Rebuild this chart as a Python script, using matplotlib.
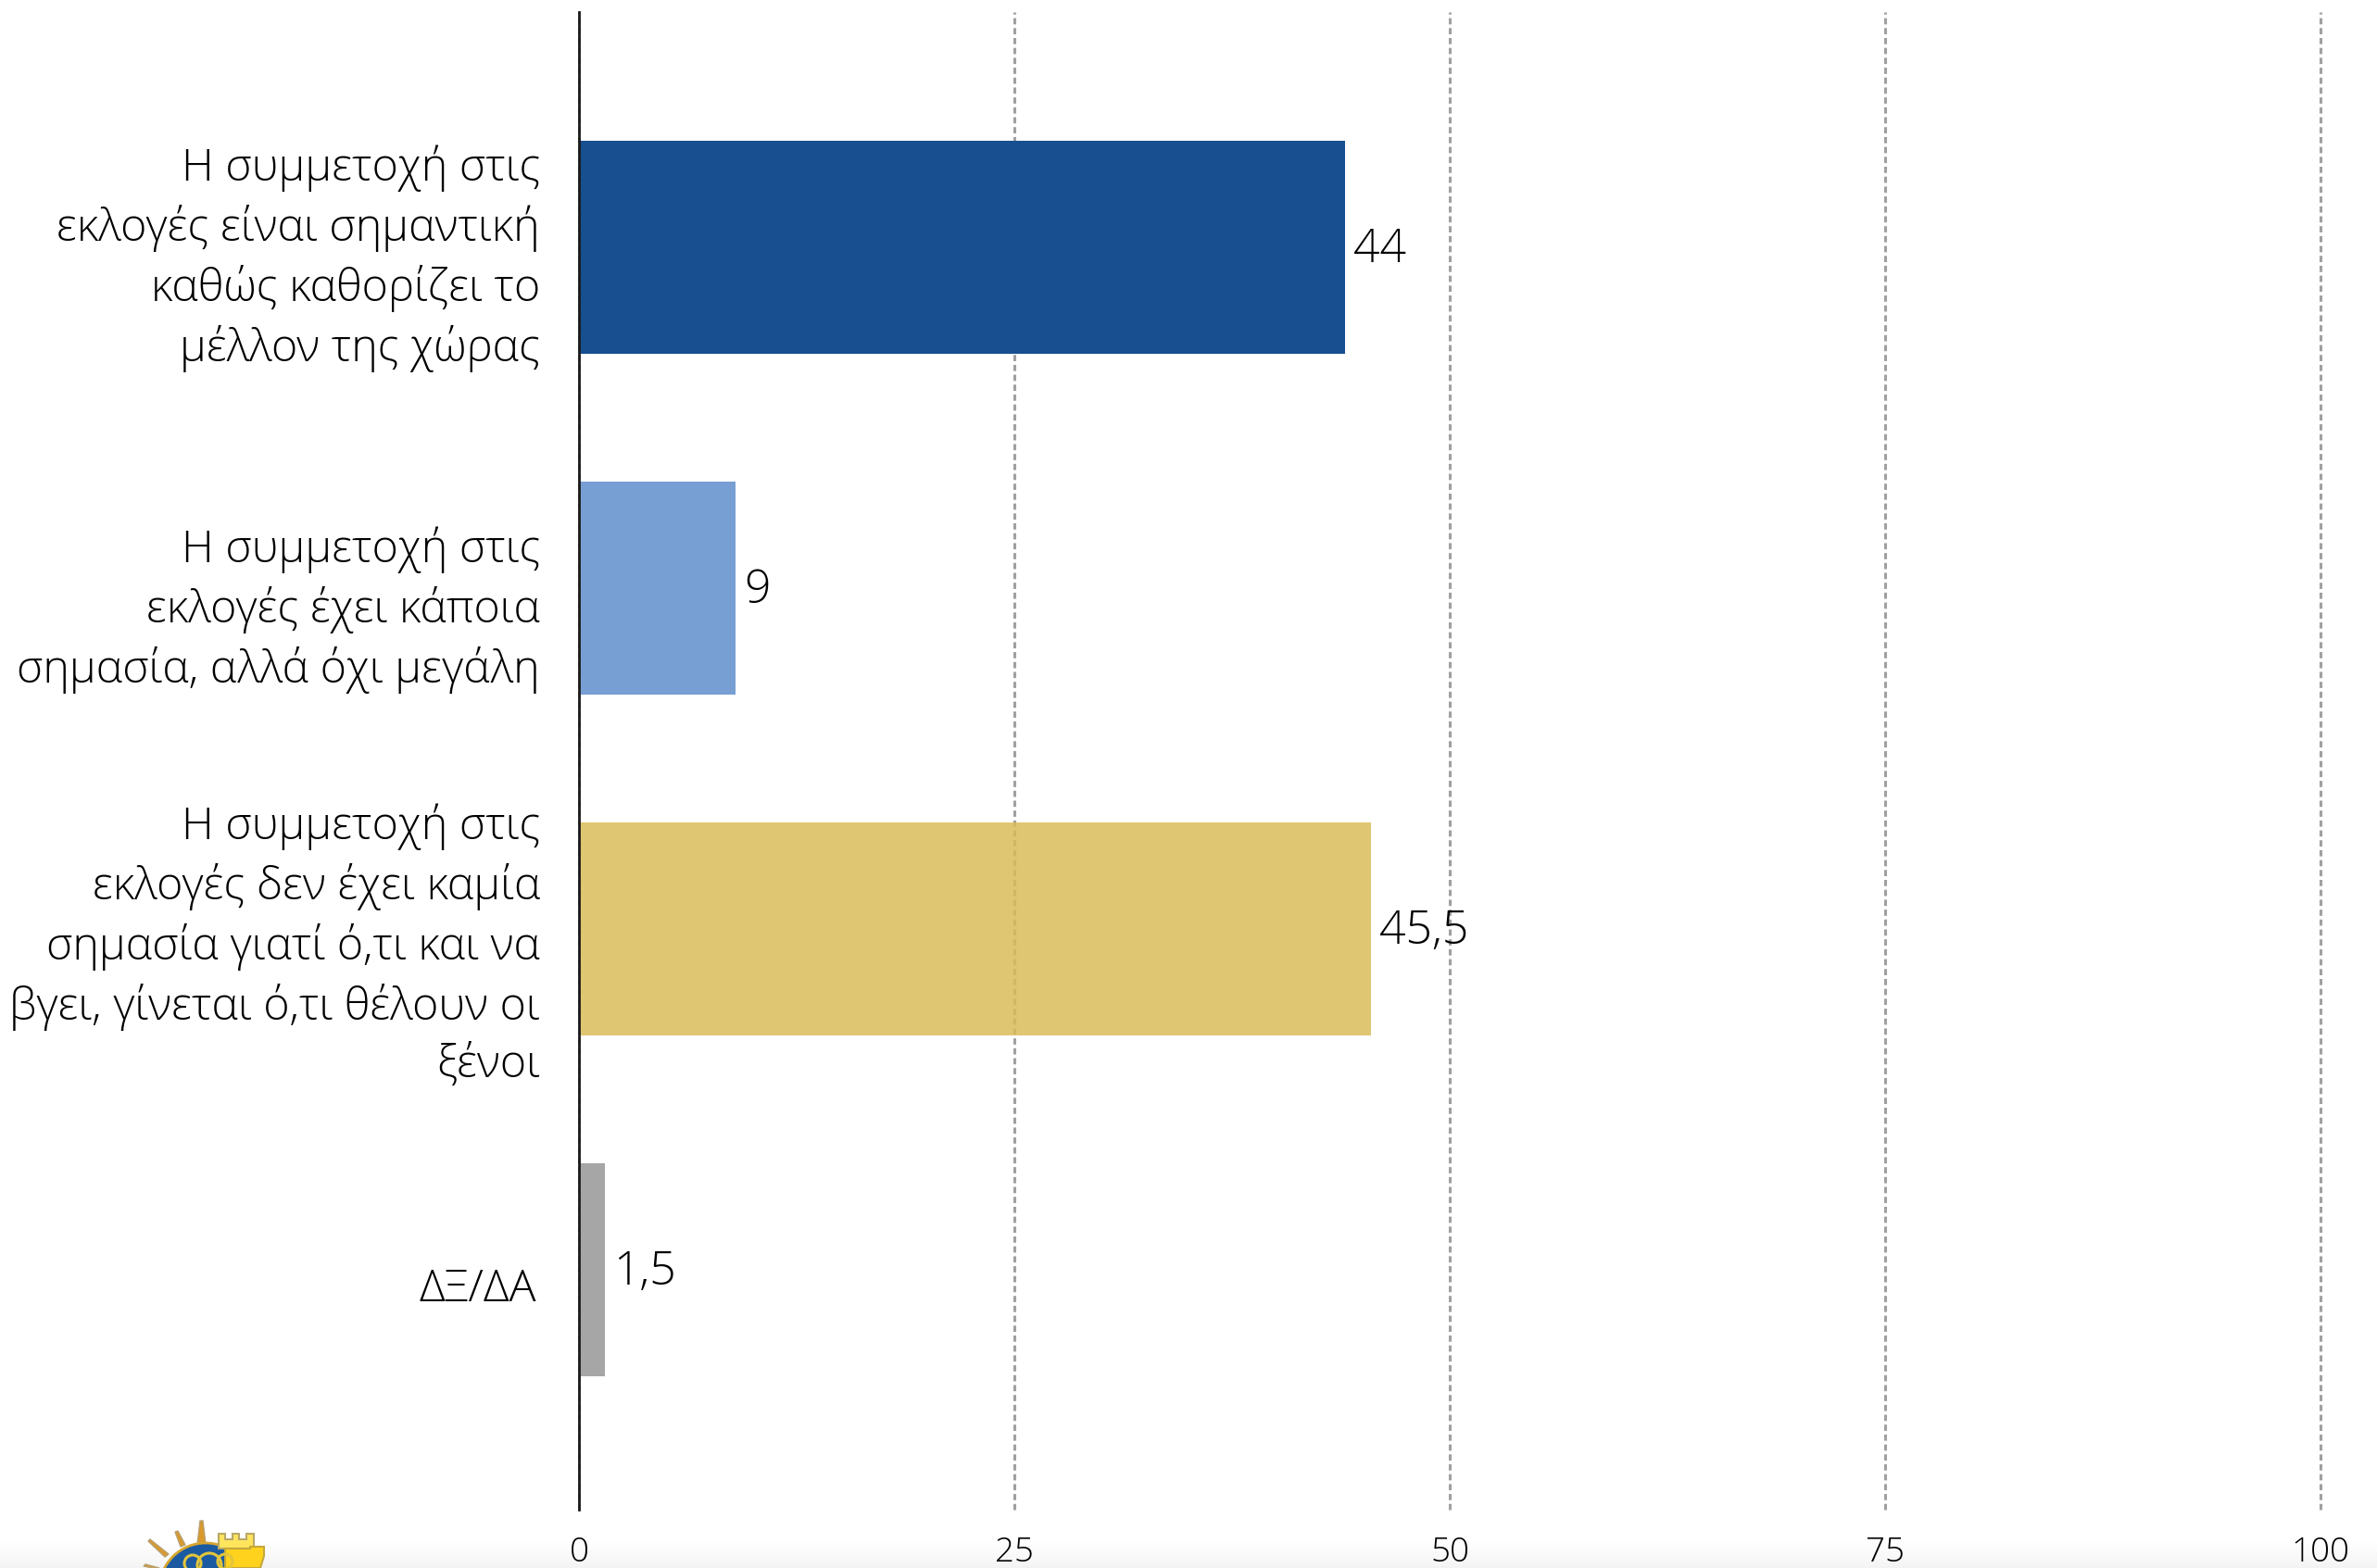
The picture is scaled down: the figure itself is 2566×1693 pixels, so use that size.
import numpy as np
import matplotlib
matplotlib.use('Agg')
import matplotlib.pyplot as plt
from matplotlib.patches import Polygon, Circle

categories = [
    'Η συμμετοχή στις\nεκλογές είναι σημαντική\nκαθώς καθορίζει το\nμέλλον της χώρας',
    'Η συμμετοχή στις\nεκλογές έχει κάποια\nσημασία, αλλά όχι μεγάλη',
    'Η συμμετοχή στις\nεκλογές δεν έχει καμία\nσημασία γιατί ό,τι και να\nβγει, γίνεται ό,τι θέλουν οι\nξένοι',
    'ΔΞ/ΔΑ',
]
values = [44, 9, 45.5, 1.5]
value_labels = ['44', '9', '45,5', '1,5']
bar_colors = ['#174F90', '#789FD3', '#DABC59', '#A6A6A6']
bar_alphas = [1, 1, 0.85, 1]  # gold bar lets the grid show through
x_ticks = [0, 25, 50, 75, 100]
label_shift = [12, 24, 18, 22]  # category text sits a bit below its bar
label_right = [42, 42, 42, 46]

W, H = 2566, 1693
plt.rcParams['font.family'] = ['Open Sans', 'DejaVu Sans']
plt.rcParams['font.weight'] = 'light'

fig = plt.figure(figsize=(W / 100, H / 100), dpi=100, facecolor='white')

# faint grey fade along the bottom edge
bg = fig.add_axes([0, 0, 1, 32 / H], zorder=0)
fade = np.linspace(1.0, 0.955, 32).reshape(-1, 1) * np.ones((32, 400))
bg.imshow(fade, cmap='gray', vmin=0, vmax=1, aspect='auto')
bg.axis('off')

ax = fig.add_axes([625 / W, (H - 1630) / H, 1880 / W, 1617 / H], zorder=2)
ax.patch.set_alpha(0)
y = np.arange(len(values))
bars = ax.barh(y, values, height=230 / 368, color=bar_colors, zorder=3)
for b, a in zip(bars, bar_alphas):
    b.set_alpha(a)
ax.set_xlim(0, 100)
ax.set_ylim(3.704, -0.69)
ax.set_yticks([])
ax.set_xticks(x_ticks)
ax.tick_params(axis='x', length=0, pad=20.5, labelsize=26.5)
ax.grid(axis='x', color='#A0A0A0', lw=2.2, linestyle=(0, (2.2, 1.3)), zorder=1)
ax.set_axisbelow(True)
for line in ax.get_xgridlines():
    line.set_clip_on(False)
    line.set_dash_capstyle('butt')
for s in ['top', 'right', 'bottom']:
    ax.spines[s].set_visible(False)
ax.spines['left'].set_linewidth(2)
ax.spines['left'].set_color('#1A1A1A')
ax.spines['left'].set_zorder(5)

for i, txt in enumerate(categories):
    ax.annotate(txt, xy=(0, i), xytext=(-label_right[i], -label_shift[i]), textcoords='offset pixels',
                ha='right', va='center', fontsize=34.8, linespacing=1.36, color='black',
                multialignment='right')
for i, txt in enumerate(value_labels):
    ax.annotate(txt, xy=(values[i], i), xytext=(9, -3), textcoords='offset pixels',
                ha='left', va='center', fontsize=36, color='black')

# logo cut off by the bottom edge
lg = fig.add_axes([0, 0, 1, 1], zorder=1)
lg.set_xlim(0, W)
lg.set_ylim(H, 0)
lg.axis('off')
rays = [[(216, 1642), (219, 1642), (222, 1667), (213, 1667)],
        [(189, 1654), (192, 1653), (200, 1668), (195, 1670)],
        [(160, 1664), (162, 1662), (182, 1678), (178, 1681)],
        [(155, 1691), (157, 1689), (172, 1693), (165, 1693)]]
for r in rays:
    lg.add_patch(Polygon(r, closed=True, fc='#D9992B', ec='#B8A070', lw=1))
lg.add_patch(Circle((222, 1716), 50, fc='#1B5AA0', ec='#D8A530', lw=2))
tower_top = [(236, 1672), (236, 1656), (243, 1656), (243, 1662), (251, 1662), (251, 1656), (258, 1656),
             (258, 1662), (266, 1662), (266, 1656), (274, 1656), (274, 1672)]
tower_low = [(243, 1693), (243, 1672), (262, 1672), (262, 1672), (270, 1672), (270, 1670), (285, 1670),
             (285, 1680), (281, 1693)]
lg.add_patch(Polygon(tower_top, closed=True, fc='#FFE55C', ec='#B8A868', lw=1.5))
lg.add_patch(Polygon(tower_low, closed=True, fc='#FFD21E', ec='#C4A83A', lw=1.5))
for c, r in [((208, 1688), 9), ((226, 1690), 13), ((243, 1686), 8)]:
    lg.add_patch(Circle(c, r, fc='none', ec='#E3C53B', lw=2.2))

fig.savefig('out.png', dpi=100)
